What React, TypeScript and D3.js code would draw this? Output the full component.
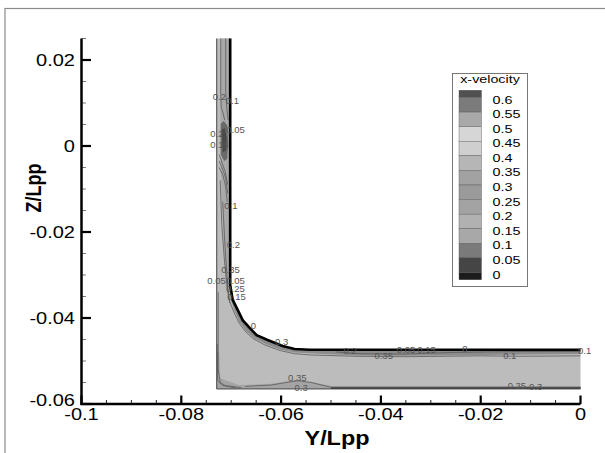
import React from "react";
import * as d3 from "d3";

// ---- axes ----
const xTicksMajor = [-0.1, -0.08, -0.06, -0.04, -0.02, 0];
const xTickLabels = ["-0.1", "-0.08", "-0.06", "-0.04", "-0.02", "0"];
const yTicksMajor = [0.02, 0, -0.02, -0.04, -0.06];
const yTickLabels = ["0.02", "0", "-0.02", "-0.04", "-0.06"];
const xMinor = [-0.095, -0.09, -0.085, -0.075, -0.07, -0.065, -0.055, -0.05, -0.045, -0.035, -0.03, -0.025, -0.015, -0.01, -0.005];
const yMinor = [0.025, 0.015, 0.01, 0.005, -0.005, -0.01, -0.015, -0.025, -0.03, -0.035, -0.045, -0.05, -0.055];

// ---- legend ----
const legendLevels = ["0.6", "0.55", "0.5", "0.45", "0.4", "0.35", "0.3", "0.25", "0.2", "0.15", "0.1", "0.05", "0"];
const legendColors = ["#505050", "#7b7b7b", "#a9a9a9", "#d6d6d6", "#cfcfcf", "#b6b6b6", "#a2a2a2", "#9a9a9a", "#a3a3a3", "#b1b1b1", "#a8a8a8", "#7a7a7a", "#454545", "#1c1c1c"];

// ---- geometry (Y/Lpp, Z/Lpp) ----
const hullProfile: [number, number][] = [
  [-0.0702, 0.025], [-0.0702, -0.0323], [-0.0697, -0.0358], [-0.0687, -0.0381],
  [-0.0677, -0.0405], [-0.0663, -0.0423], [-0.0649, -0.044], [-0.0627, -0.0451],
  [-0.0597, -0.0465], [-0.0573, -0.0472], [-0.0543, -0.0474], [0, -0.0474],
];
const outerBoundary: [number, number][] = [
  [0, -0.0474], [0, -0.0565], [-0.0729, -0.0565], [-0.0729, 0.025],
];
// medium band in vertical strip
const stripBand: [number, number][] = [
  [-0.0721, 0.025], [-0.0705, 0.025], [-0.0705, -0.033], [-0.0703, -0.036],
  [-0.0711, -0.033], [-0.0716, -0.02], [-0.0721, -0.005], [-0.0722, 0.01],
];
// darker core
const darkCore: [number, number][] = [
  [-0.0721, 0.0052], [-0.0715, 0.0058], [-0.0708, 0.0048], [-0.0706, 0.001],
  [-0.0708, -0.003], [-0.0714, -0.0035], [-0.0721, -0.002],
];
const darkInner: [number, number][] = [
  [-0.0719, 0.0038], [-0.0713, 0.0042], [-0.0709, 0.002], [-0.071, -0.001], [-0.0717, -0.0015],
];
// thin layer along the hull
const hullLayer: [number, number][] = [
  [-0.0702, 0.025], [-0.0702, -0.0323], [-0.0697, -0.0358], [-0.0687, -0.0381],
  [-0.0677, -0.0405], [-0.0663, -0.0423], [-0.0649, -0.044], [-0.0627, -0.0451],
  [-0.0597, -0.0465], [-0.0573, -0.0472], [-0.0543, -0.0474], [0, -0.0474],
  [0, -0.0484], [-0.02, -0.0486], [-0.035, -0.0488], [-0.045, -0.0487],
  [-0.0543, -0.0482], [-0.0573, -0.0480], [-0.0600, -0.0474], [-0.0630, -0.0461],
  [-0.0655, -0.0446], [-0.0670, -0.0430], [-0.0683, -0.0410], [-0.0693, -0.0385],
  [-0.0700, -0.0360], [-0.0705, -0.0325], [-0.0705, 0.025],
];
const bottomBand: [number, number][] = [
  [0, -0.0558], [-0.050, -0.0558], [-0.054, -0.0548], [-0.0575, -0.0545],
  [-0.062, -0.0553], [-0.0685, -0.0556], [-0.0722, -0.0540], [-0.0724, -0.0480],
  [-0.0729, -0.0480], [-0.0729, -0.0565], [0, -0.0565],
];

// contour lines
const cLine1: [number, number][] = [[-0.0721, 0.025], [-0.0721, 0.012], [-0.072, 0.009], [-0.0716, 0.0075], [-0.0713, 0.006]];
const cLine2: [number, number][] = [[-0.0711, 0.025], [-0.0711, 0.013], [-0.0709, 0.009], [-0.0706, 0.006]];
const cLine3: [number, number][] = [[-0.0724, -0.002], [-0.0718, -0.004], [-0.0712, -0.006], [-0.0707, -0.009]];
const cLine4: [number, number][] = [[-0.0724, -0.0035], [-0.0717, -0.0055], [-0.0711, -0.0075], [-0.0707, -0.011]];
const cLine5: [number, number][] = [[-0.0724, -0.005], [-0.0716, -0.007], [-0.0711, -0.0095], [-0.0708, -0.013]];
const cLine6: [number, number][] = [[-0.0722, -0.008], [-0.0719, -0.018], [-0.0714, -0.026], [-0.0709, -0.032], [-0.0703, -0.0365]];
const cLine7: [number, number][] = [[-0.0717, -0.013], [-0.0713, -0.022], [-0.0709, -0.029], [-0.0707, -0.033]];
const cLine8: [number, number][] = [
  [-0.0707, -0.033], [-0.0703, -0.0362], [-0.0694, -0.0388], [-0.0684, -0.0412],
  [-0.0671, -0.0432], [-0.0656, -0.0448], [-0.0632, -0.0463], [-0.0601, -0.0476],
  [-0.0573, -0.0483], [-0.054, -0.0486], [-0.045, -0.0489], [-0.035, -0.049],
  [-0.02, -0.0488], [-0.012, -0.0489], [0, -0.0488],
];
const cLine9: [number, number][] = [
  [-0.049, -0.0479], [-0.044, -0.0483], [-0.036, -0.0484], [-0.025, -0.048], [-0.013, -0.0478], [0, -0.0478],
];
const cLine10: [number, number][] = [
  [-0.0726, -0.034], [-0.0726, -0.052], [-0.0722, -0.0550], [-0.0712, -0.0557], [-0.0680, -0.0562],
];
const cLine11: [number, number][] = [
  [-0.0728, -0.046], [-0.0727, -0.0545], [-0.0718, -0.0557], [-0.069, -0.0563],
];
const cLine12: [number, number][] = [
  [-0.0672, -0.0559], [-0.062, -0.0556], [-0.0585, -0.0549], [-0.0565, -0.0546],
  [-0.054, -0.0550], [-0.050, -0.0561], [0, -0.0561],
];

const labelText = ["0.2", "0.1", "0.2", "0.05", "0.15", "0.1", "0.2", "0.35", "0.05", "0.05", "0.25", "0.15", "0", "0.3", "0.2", "0.35", "0.05", "0.15", "0", "0.1", "0.1", "0.35", "0.3", "0.35", "0.3"];
const labelY = [-0.0737, -0.0711, -0.0742, -0.0710, -0.0742, -0.0714, -0.0709, -0.0720, -0.0748, -0.0710, -0.0710, -0.0708, -0.0661, -0.0612, -0.0475, -0.0413, -0.0368, -0.0327, -0.0237, -0.0155, -0.0005, -0.0586, -0.0573, -0.0146, -0.0103];
const labelZ = [0.0112, 0.0103, 0.0025, 0.0036, 0.0000, -0.0142, -0.0232, -0.0290, -0.0316, -0.0316, -0.0335, -0.0354, -0.0420, -0.0457, -0.0478, -0.0490, -0.0477, -0.0477, -0.0473, -0.0489, -0.0478, -0.0542, -0.0565, -0.0560, -0.0562];

const W = 605;
const H = 453;

function SText(props: { x: number; y: number; sx: number; size: number; anchor?: string; weight?: string; fill?: string; children: React.ReactNode; baseline?: string }) {
  return (
    <text
      transform={`translate(${props.x},${props.y}) scale(${props.sx},1)`}
      fontSize={props.size}
      textAnchor={props.anchor || "start"}
      fontWeight={props.weight || "normal"}
      fill={props.fill || "#000"}
      dominantBaseline={props.baseline || "auto"}
    >
      {props.children}
    </text>
  );
}

export default function App() {
  const x = d3.scaleLinear().domain([-0.1, 0]).range([81.5, 580.5]);
  const y = d3.scaleLinear().domain([-0.06, 0.02]).range([404, 60]);
  const line = d3.line<[number, number]>().x((d) => x(d[0])).y((d) => y(d[1]));
  const poly = (pts: [number, number][]) => line(pts) + "Z";

  const legX = 452.5, legY = 73.5, legW = 75, legH = 213;
  const swX = 459, swW = 22.5;
  const lv = d3.scaleLinear().domain([0, 12]).range([97.5, 272.5]);
  const half = (lv(1) - lv(0)) / 2;

  const font = "Arial, 'Liberation Sans', Helvetica, sans-serif";

  return (
    <svg width={W} height={H} style={{ position: "absolute", left: 0, top: 0, background: "#fff" }} fontFamily={font}>
      <rect x={0} y={0} width={W} height={H} fill="#fff" />
      <rect x={5} y={8.5} width={700} height={600} fill="none" stroke="#8a8a8a" strokeWidth={1.2} />

      {/* flow field */}
      <path d={poly([...hullProfile, ...outerBoundary])} fill="#bcbcbc" />
      <path d={poly(stripBand)} fill="#a9a9a9" />
      <path d={poly(darkCore)} fill="#6a6a6a" />
      <path d={poly(darkInner)} fill="#4a4a4a" />
      <path d={poly(bottomBand)} fill="#a4a4a4" />
      <path d={poly(hullLayer)} fill="#8c8c8c" />

      {[cLine1, cLine2, cLine3, cLine4, cLine5, cLine6, cLine7, cLine8, cLine9, cLine10, cLine11, cLine12].map((c, i) => (
        <path key={i} d={line(c) || ""} fill="none" stroke="#5a5a5a" strokeWidth={0.8} />
      ))}
      <path d={line([[-0.0729, 0.025], [-0.0729, -0.0565], [0, -0.0565]]) || ""} fill="none" stroke="#444" strokeWidth={1} />
      <path d={line([[-0.05, -0.0563], [0, -0.0563]]) || ""} fill="none" stroke="#444" strokeWidth={1.6} />
      <path d={line(hullProfile) || ""} fill="none" stroke="#000" strokeWidth={2.6} />

      {labelText.map((t, i) => (
        <SText key={i} x={x(labelY[i])} y={y(labelZ[i])} sx={1.12} size={8.5} fill="#555" baseline="middle">{t}</SText>
      ))}

      {/* axes */}
      {xMinor.map((v) => (
        <line key={"xm" + v} x1={x(v)} x2={x(v)} y1={404} y2={400} stroke="#222" strokeWidth={1} />
      ))}
      {yMinor.map((v) => (
        <line key={"ym" + v} x1={81.5} x2={86} y1={y(v)} y2={y(v)} stroke="#777" strokeWidth={1} />
      ))}
      {xTicksMajor.map((v, i) => (
        <g key={"xt" + v}>
          <line x1={x(v)} x2={x(v)} y1={404} y2={395.5} stroke="#000" strokeWidth={2.2} />
          <SText x={x(v)} y={419.5} sx={1.25} size={16} anchor="middle">{xTickLabels[i]}</SText>
        </g>
      ))}
      {yTicksMajor.map((v, i) => (
        <g key={"yt" + v}>
          <line x1={81.5} x2={91} y1={y(v)} y2={y(v)} stroke="#000" strokeWidth={2.2} />
          <SText x={75} y={y(v) + (v === -0.06 ? 1.5 : 6)} sx={1.25} size={16} anchor="end">{yTickLabels[i]}</SText>
        </g>
      ))}
      <line x1={81.5} x2={81.5} y1={y(0.025)} y2={405} stroke="#000" strokeWidth={2.5} />
      <line x1={80.5} x2={x(0)} y1={404} y2={404} stroke="#000" strokeWidth={2.5} />

      <SText x={337} y={445} sx={1.17} size={20} weight="bold" anchor="middle">Y/Lpp</SText>
      <text transform="translate(41,188) scale(1.2,1) rotate(-90)" fontSize={18} fontWeight="bold" textAnchor="middle">Z/Lpp</text>

      {/* legend */}
      <rect x={legX} y={legY} width={legW} height={legH} fill="#fff" stroke="#777" strokeWidth={1} />
      <SText x={legX + legW / 2} y={83} sx={1.3} size={11} anchor="middle">x-velocity</SText>
      {legendColors.map((c, i) => {
        const top = i === 0 ? lv(0) - half : lv(i - 1);
        const bot = i === legendColors.length - 1 ? lv(12) + half : lv(i);
        return <rect key={"lc" + i} x={swX} y={top} width={swW} height={bot - top} fill={c} stroke="#555" strokeWidth={0.4} />;
      })}
      {legendLevels.map((t, i) => (
        <SText key={"ll" + i} x={492.5} y={lv(i) + 6} sx={1.25} size={11.5}>{t}</SText>
      ))}
    </svg>
  );
}
